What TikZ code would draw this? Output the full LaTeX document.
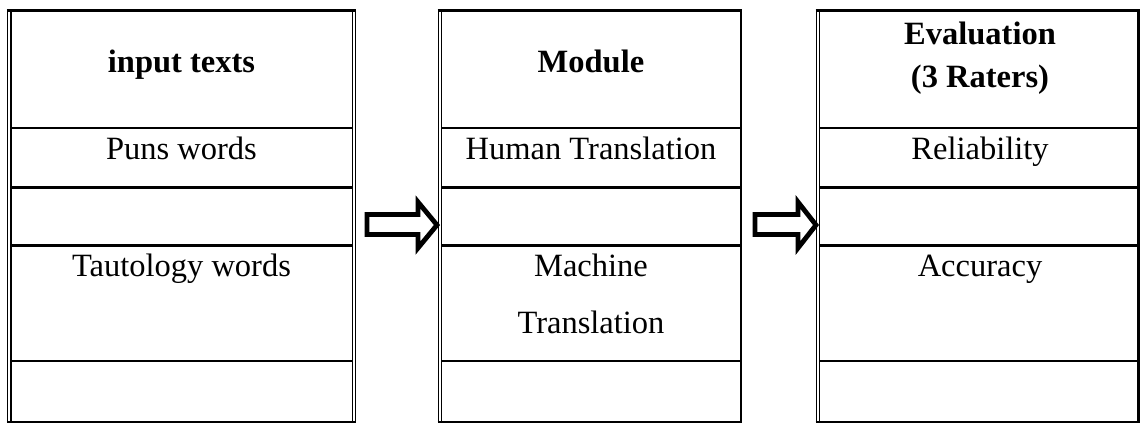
\documentclass[tikz,border=0pt]{standalone}
\usepackage{fontspec}
\setmainfont{Liberation Serif}
\tikzset{
  border/.style={line width=2.6pt},
  rule/.style={line width=2.4pt},
  dbl/.style={line width=1.4pt},
  blockarrow/.style={line width=4.8pt, line join=miter, miter limit=10},
  txt/.style={anchor=base, inner sep=0pt, font=\fontsize{32.5}{38}\selectfont},
  hd/.style={anchor=base, inner sep=0pt, font=\fontsize{32.5}{38}\selectfont\bfseries},
}
\begin{document}
\begin{tikzpicture}[x=1pt,y=-1pt]
\useasboundingbox (0,0) rectangle (1143,423);
\fill[white] (0,0) rectangle (1143,423);
% ---------- box 1 ----------
\draw[dbl] (7.5,10) -- (7.5,423);
\draw[dbl] (11,10) -- (11,423);
\draw[dbl] (352.3,10) -- (352.3,423);
\draw[dbl] (355.5,10) -- (355.5,423);
\draw[border] (6.8,10.2) -- (356.2,10.2);
\draw[border] (6.8,421.8) -- (356.2,421.8);
\foreach \yy in {128,187.5,245.5,361} \draw[rule] (11,\yy) -- (352.3,\yy);
% ---------- box 2 ----------
\draw[dbl] (438.3,10) -- (438.3,423);
\draw[dbl] (441.5,10) -- (441.5,423);
\draw[border] (741,9) -- (741,423);
\draw[border] (437.6,10.2) -- (742.2,10.2);
\draw[border] (437.6,421.8) -- (742.2,421.8);
\foreach \yy in {128,187.5,245.5,361} \draw[rule] (441.5,\yy) -- (741,\yy);
% ---------- box 3 ----------
\draw[dbl] (816.3,10) -- (816.3,423);
\draw[dbl] (819.5,10) -- (819.5,423);
\draw[border] (1138.5,9) -- (1138.5,423);
\draw[border] (815.6,10.2) -- (1139.7,10.2);
\draw[border] (815.6,421.8) -- (1139.7,421.8);
\foreach \yy in {128,187.5,245.5,361} \draw[rule] (819.5,\yy) -- (1138.5,\yy);
% ---------- texts ----------
\node[hd]  (h1)  at (181.5,72.5) {input texts};
\node[txt] (a1)  at (181.5,159) {Puns words};
\node[txt] (b1)  at (181.5,276) {Tautology words};
\node[hd]  (h2)  at (591,72.5) {Module};
\node[txt] (a2)  at (591,159) {Human Translation};
\node[txt] (b2)  at (591,276) {Machine};
\node[txt] (c2)  at (591,333) {Translation};
\node[hd]  (h3)  at (980,44.5) {Evaluation};
\node[hd]  (h3b) at (980,87) {(3 Raters)};
\node[txt] (a3)  at (980,159) {Reliability};
\node[txt] (b3)  at (980,276) {Accuracy};
% ---------- block arrows ----------
\draw[blockarrow] (367,214.5) -- (418,214.5) -- (418,202) -- (437,225)
   -- (418,248) -- (418,234.5) -- (367,234.5) -- cycle;
\draw[blockarrow] (755,214.5) -- (798,214.5) -- (798,202) -- (816,225)
   -- (798,248) -- (798,234.5) -- (755,234.5) -- cycle;
\end{tikzpicture}
\end{document}
